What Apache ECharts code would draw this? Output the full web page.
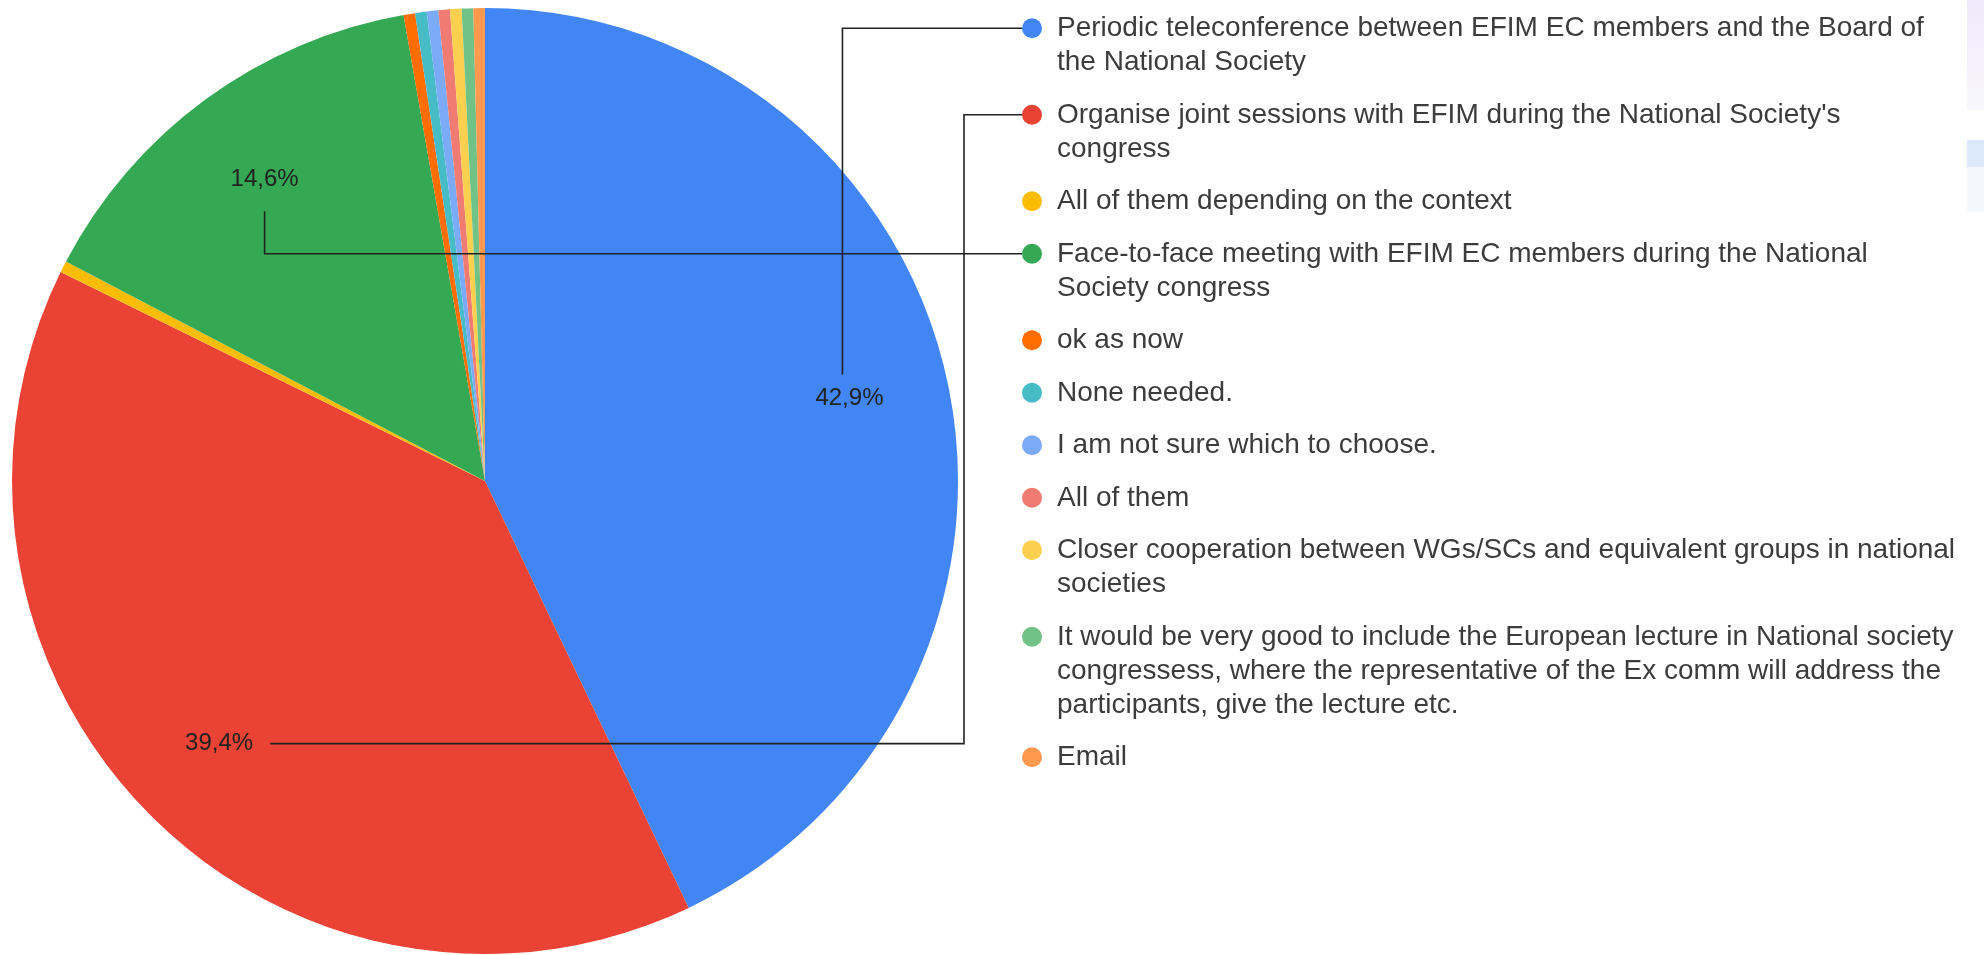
<!DOCTYPE html>
<html>
<head>
<meta charset="utf-8">
<script src="https://cdn.jsdelivr.net/npm/echarts@6/dist/echarts.min.js"></script>
<style>
html,body{margin:0;padding:0;background:#ffffff;}
#chart{width:1984px;height:955px;}
</style>
</head>
<body>
<div id="chart"></div>
<script>
// ---- data ----
const categories = [
  "Periodic teleconference between EFIM EC members and the Board of the National Society",
  "Organise joint sessions with EFIM during the National Society's congress",
  "All of them depending on the context",
  "Face-to-face meeting with EFIM EC members during the National Society congress",
  "ok as now",
  "None needed.",
  "I am not sure which to choose.",
  "All of them",
  "Closer cooperation between WGs/SCs and equivalent groups in national societies",
  "It would be very good to include the European lecture in National society congressess, where the representative of the Ex comm will address the participants, give the lecture etc.",
  "Email"
];
const counts = [109, 100, 1, 37, 1, 1, 1, 1, 1, 1, 1];
const colors = ['#4285F4', '#EA4335', '#FBBC04', '#34A853', '#FF6D01', '#46BDC6', '#7BAAF7', '#F07B72', '#FCD04F', '#71C287', '#FF994D'];
const legendLabels = [
  "Periodic teleconference between EFIM EC members and the Board of\nthe National Society",
  "Organise joint sessions with EFIM during the National Society's\ncongress",
  "All of them depending on the context",
  "Face-to-face meeting with EFIM EC members during the National\nSociety congress",
  "ok as now",
  "None needed.",
  "I am not sure which to choose.",
  "All of them",
  "Closer cooperation between WGs/SCs and equivalent groups in national\nsocieties",
  "It would be very good to include the European lecture in National society\ncongressess, where the representative of the Ex comm will address the\nparticipants, give the lecture etc.",
  "Email"
];
const labelledSlices = [0, 1, 3];
const leaderRoute = { 0: 'vertical', 1: 'horizontal', 3: 'vertical' };

// ---- layout / style constants ----
const CX = 485, CY = 481, R = 473;
const LABEL_RADIUS = 0.79;
const LEG_LEFT = 1022, FIRST_ICON_Y = 28.3, LINE_H = 34, ITEM_GAP = 18.5, ICON = 20;
const ELBOW_X = 964;
const FONT = "'Liberation Sans', Arial, sans-serif";

const total = counts.reduce((a, b) => a + b, 0);

const iconY = [];
(function () {
  let y = FIRST_ICON_Y;
  legendLabels.forEach(function (t) {
    iconY.push(y);
    y += t.split('\n').length * LINE_H + ITEM_GAP;
  });
})();

// one legend per entry so that the marker sits on the first text line
const legends = categories.map(function (name, i) {
  const n = legendLabels[i].split('\n').length;
  const lead = new Array(n).join('\n'); // n-1 blank lines above keep the first line centred on the marker
  return {
    data: [name],
    orient: 'vertical',
    left: LEG_LEFT,
    top: iconY[i] - (2 * n - 1) * LINE_H / 2,
    padding: 0,
    icon: 'circle',
    itemWidth: ICON,
    itemHeight: ICON,
    selectedMode: false,
    formatter: function () { return lead + legendLabels[i]; },
    textStyle: {
      fontSize: 28,
      lineHeight: LINE_H,
      color: '#3c3c3c',
      fontFamily: FONT,
      padding: [0, 0, 0, 10],
      backgroundColor: 'rgba(0,0,0,0)'
    }
  };
});

const chart = echarts.init(document.getElementById('chart'), null, { renderer: 'canvas' });

function labelLayout(p) {
  const i = p.dataIndex;
  let cx = CX, cy = CY, r = R, mid;
  try {
    const lay = chart.getModel().getSeriesByIndex(p.seriesIndex).getData().getItemLayout(i);
    cx = lay.cx; cy = lay.cy; r = lay.r;
    mid = (lay.startAngle + lay.endAngle) / 2;
  } catch (e) {
    const p0 = p.labelLinePoints[0];
    mid = Math.atan2(p0[1] - CY, p0[0] - CX);
  }
  const lx = cx + Math.cos(mid) * r * LABEL_RADIUS;
  const ly = cy + Math.sin(mid) * r * LABEL_RADIUS;
  const w = p.labelRect.width, h = p.labelRect.height;
  const ty = iconY[i];
  let pts;
  if (leaderRoute[i] === 'horizontal') {
    pts = [[lx + w / 2 + 17, ly], [ELBOW_X, ly], [ELBOW_X, ty], [LEG_LEFT, ty]];
  } else if (ty < ly) {
    const sy = ly - h / 2 - 12;
    pts = [[lx - 7, sy], [lx - 7, ty], [LEG_LEFT, ty]];
  } else {
    const sy = ly + h / 2 + 20;
    pts = [[lx, sy], [lx, ty], [LEG_LEFT, ty]];
  }
  return { x: lx, y: ly, align: 'center', verticalAlign: 'middle', labelLinePoints: pts };
}

const sliceData = categories.map(function (name, i) {
  return { name: name, value: counts[i], itemStyle: { color: colors[i] } };
});
const labelData = categories.map(function (name, i) {
  const show = labelledSlices.indexOf(i) >= 0;
  return {
    name: name,
    value: counts[i],
    label: { show: show },
    labelLine: { show: show }
  };
});

const option = {
  backgroundColor: '#ffffff',
  animation: false,
  legend: legends,
  graphic: [
    { type: 'rect', shape: { x: 1967, y: 0, width: 17, height: 110 },
      style: { fill: new echarts.graphic.LinearGradient(0, 0, 0, 1, [{ offset: 0, color: '#efeafb' }, { offset: 1, color: '#f8f6fd' }]) }, silent: true },
    { type: 'rect', shape: { x: 1967, y: 140, width: 17, height: 27 }, style: { fill: '#dce9fb' }, silent: true },
    { type: 'rect', shape: { x: 1967, y: 167, width: 17, height: 45 }, style: { fill: '#f4f7fd' }, silent: true }
  ],
  series: [{
    type: 'pie',
    z: 2,
    center: [CX, CY],
    radius: R,
    startAngle: 90,
    clockwise: true,
    silent: true,
    emphasis: { disabled: true },
    itemStyle: { borderWidth: 0 },
    label: { show: false },
    labelLine: { show: false },
    data: sliceData
  }, {
    // transparent overlay carrying the percentage labels and leader lines above all slices
    type: 'pie',
    z: 5,
    center: [CX, CY],
    radius: R,
    startAngle: 90,
    clockwise: true,
    avoidLabelOverlap: false,
    silent: true,
    emphasis: { disabled: true },
    itemStyle: { color: 'rgba(0,0,0,0)', borderWidth: 0 },
    label: {
      position: 'outside',
      fontSize: 24,
      color: '#222222',
      fontFamily: FONT,
      formatter: function (p) { return (p.value / total * 100).toFixed(1).replace('.', ',') + '%'; }
    },
    labelLine: { show: true, length: 10, length2: 10, lineStyle: { color: '#222222', width: 1.6 } },
    labelLayout: labelLayout,
    data: labelData
  }]
};

chart.setOption(option);
</script>
</body>
</html>
